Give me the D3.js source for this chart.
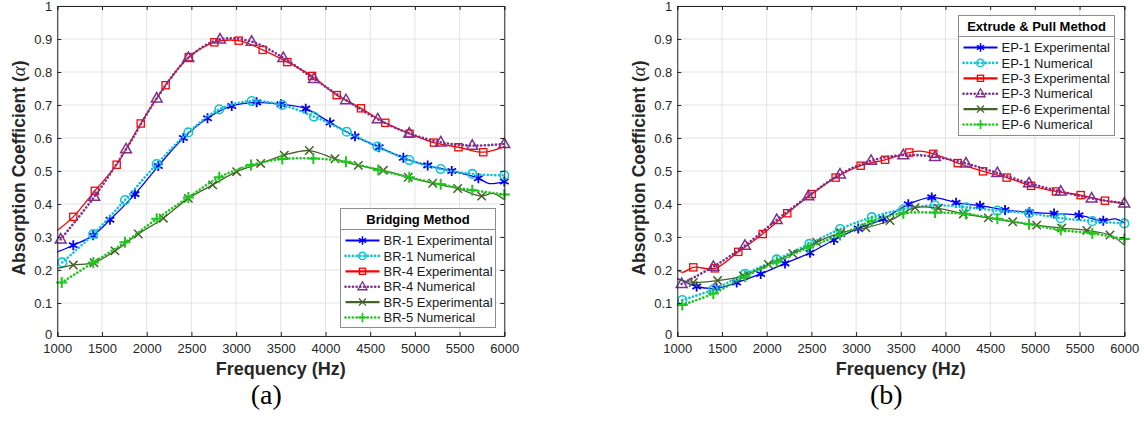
<!DOCTYPE html>
<html>
<head>
<meta charset="utf-8">
<script src="https://cdn.jsdelivr.net/npm/d3@7"></script>
<style>
  body { margin: 0; background: #fff; }
  svg { display: block; }
</style>
</head>
<body>
<script>
// frequency ticks / value ticks
const xTicks = [1000, 1500, 2000, 2500, 3000, 3500, 4000, 4500, 5000, 5500, 6000];
const yTicks = [0, 0.1, 0.2, 0.3, 0.4, 0.5, 0.6, 0.7, 0.8, 0.9, 1];

// [freq, alpha, (0 = no marker)]
const br1Exp = [[1000,.255,0],[1179,.275],[1400,.305],[1589,.352],[1869,.43],[2130,.515],[2410,.6],[2680,.66],[2951,.697],[3230,.708],[3502,.702],[3779,.689],[4051,.647],[4330,.605],[4600,.572],[4871,.54],[5143,.517],[5412,.5],[5710,.478],[5830,.462,0],[6000,.468]];
const br1Num = [[1056,.223],[1403,.309],[1757,.412],[2112,.521],[2466,.617],[2812,.687],[3174,.712],[3517,.7],[3871,.665],[4237,.619],[4580,.574],[4937,.533],[5289,.506],[5642,.491],[6000,.487]];
const br4Exp = [[1000,.32,0],[1179,.361],[1420,.44],[1664,.519],[1933,.644],[2212,.76],[2470,.845],[2757,.89],[3029,.895],[3297,.867],[3573,.83],[3849,.788],[4125,.73],[4397,.69],[4669,.646],[4940,.613],[5214,.586],[5487,.572],[5765,.557],[6000,.574,0]];
const br4Num = [[1038,.293],[1414,.422],[1769,.566],[2112,.72],[2466,.843],[2820,.899],[3174,.892],[3528,.843],[3871,.779],[4229,.715],[4584,.657],[4937,.614],[5289,.587],[5642,.577],[6000,.582]];
const br5Exp = [[1000,.205,0],[1179,.215],[1410,.222],[1645,.258],[1906,.309],[2186,.357],[2466,.417],[2738,.458],[3006,.498],[3275,.523],[3539,.548],[3819,.562],[4106,.537],[4367,.517],[4647,.502],[4926,.481],[5199,.463],[5479,.447],[5747,.424],[5870,.432,0],[6000,.413,0]];
const br5Num = [[1049,.162],[1403,.223],[1757,.284],[2112,.355],[2466,.42],[2812,.481],[3167,.518],[3517,.536],[3864,.538],[4229,.528],[4591,.503],[4937,.481],[5289,.46],[5642,.442],[6000,.429]];

const ep1Exp = [[1000,.175,0],[1217,.15],[1440,.145],[1664,.162],[1933,.188],[2205,.22],[2484,.252],[2752,.291],[3024,.326],[3304,.355],[3584,.399],[3846,.42],[4118,.404],[4386,.395],[4666,.382],[4937,.375],[5214,.371],[5493,.366],[5765,.349],[5900,.355,0],[6000,.343,0]];
const ep1Num = [[1056,.109],[1403,.141],[1757,.188],[2112,.232],[2477,.279],[2820,.324],[3175,.36],[3528,.384],[3882,.396],[4229,.39],[4580,.38],[4934,.372],[5289,.357],[5642,.348],[6000,.341]];
const ep3Exp = [[1000,.2,0],[1060,.193,0],[1179,.208],[1420,.205],[1682,.255],[1955,.309],[2230,.372],[2503,.43],[2771,.48],[3051,.516],[3324,.534],[3595,.556],[3715,.56,0],[3864,.552],[4137,.524],[4420,.499],[4684,.48],[4958,.455],[5236,.438],[5512,.427],[5784,.41],[6000,.402,0]];
const ep3Num = [[1049,.158],[1403,.21],[1757,.274],[2112,.352],[2466,.424],[2820,.49],[3167,.531],[3528,.548],[3882,.543],[4229,.523],[4580,.494],[4934,.463],[5289,.438],[5635,.417],[6000,.402]];
const ep6Exp = [[1000,.172,0],[1179,.162],[1450,.168],[1740,.182],[2018,.217],[2291,.25],[2559,.284],[2828,.313],[3110,.328],[3379,.35],[3659,.389],[3920,.387],[4200,.37],[4479,.358],[4752,.346],[5020,.336],[5300,.327],[5580,.32],[5840,.306],[6000,.276,0]];
const ep6Num = [[1056,.094],[1403,.129],[1757,.18],[2112,.225],[2466,.268],[2820,.306],[3175,.348],[3528,.372],[3882,.374],[4229,.37],[4580,.355],[4934,.339],[5289,.321],[5642,.311],[6000,.294]];

const leftNames = ["BR-1 Experimental", "BR-1 Numerical", "BR-4 Experimental", "BR-4 Numerical", "BR-5 Experimental", "BR-5 Numerical"];
const rightNames = ["EP-1 Experimental", "EP-1 Numerical", "EP-3 Experimental", "EP-3 Numerical", "EP-6 Experimental", "EP-6 Numerical"];

// style per series slot (same for both panels)
const styles = [
  {color: "#0000ff", dash: null, marker: "star"},
  {color: "#12c4d2", dash: "0.1,3.6", marker: "circle"},
  {color: "#ff0000", dash: null, marker: "square"},
  {color: "#7e2f8e", dash: "0.1,3.6", marker: "triangle"},
  {color: "#46602a", dash: null, marker: "x"},
  {color: "#1cc81c", dash: "0.1,3.6", marker: "plus"}
];

const W = 1144, H = 421;
const sans = "'Liberation Sans', Arial, Helvetica, sans-serif";
const svg = d3.select("body").append("svg").attr("width", W).attr("height", H)
  .attr("font-family", sans);
const ink = "#262626";

function marker(g, type, color, s) {
  s = s || 1;
  if (type === "circle") {
    g.append("circle").attr("r", 4.3 * s).attr("fill", "none").attr("stroke", color).attr("stroke-width", 1.6);
  } else if (type === "square") {
    g.append("rect").attr("x", -3.6 * s).attr("y", -3.6 * s).attr("width", 7.2 * s).attr("height", 7.2 * s)
      .attr("fill", "none").attr("stroke", color).attr("stroke-width", 1.3);
  } else {
    const paths = {
      star: "M0,-5V5M-4.3,-2.5L4.3,2.5M-4.3,2.5L4.3,-2.5",
      triangle: "M0,-5.8L5.4,3.6L-5.4,3.6Z",
      x: "M-4.2,-4.2L4.2,4.2M-4.2,4.2L4.2,-4.2",
      plus: "M0,-5.5V5.5M-5.5,0H5.5"
    };
    g.append("path").attr("d", paths[type]).attr("transform", "scale(" + s + ")")
      .attr("fill", "none").attr("stroke", color)
      .attr("stroke-width", type === "plus" ? 2 : (type === "star" ? 1.8 : 1.5));
  }
}

function panel(x0, series, names, title, legBox, caption) {
  const x = d3.scaleLinear().domain([1000, 6000]).range([x0, x0 + 447]);
  const y = d3.scaleLinear().domain([0, 1]).range([336, 6]);
  const g = svg.append("g");

  // grid
  g.append("g").selectAll("line").data(xTicks).join("line")
    .attr("x1", d => x(d)).attr("x2", d => x(d)).attr("y1", y(0)).attr("y2", y(1))
    .attr("stroke", "#e3e3e3").attr("stroke-width", 1);
  g.append("g").selectAll("line").data(yTicks).join("line")
    .attr("x1", x(1000)).attr("x2", x(6000)).attr("y1", d => y(d)).attr("y2", d => y(d))
    .attr("stroke", "#e3e3e3").attr("stroke-width", 1);

  // curves
  const line = d3.line().x(d => x(d[0])).y(d => y(d[1])).curve(d3.curveCatmullRom.alpha(0.5));
  series.forEach((data, i) => {
    const st = styles[i];
    g.append("path").datum(data).attr("d", line)
      .attr("fill", "none").attr("stroke", st.color)
      .attr("stroke-width", st.dash ? 2.6 : 1.3)
      .attr("stroke-dasharray", st.dash)
      .attr("stroke-linecap", st.dash ? "round" : "butt");
    g.append("g").selectAll("g").data(data.filter(d => d[2] !== 0)).join("g")
      .attr("transform", d => "translate(" + x(d[0]) + "," + y(d[1]) + ")")
      .each(function () { marker(d3.select(this), st.marker, st.color); });
  });

  // axes (ticks point inward, box on)
  const fmt = d => d === 0 || d === 1 ? String(d) : d.toFixed(1);
  const ax = [
    g.append("g").attr("transform", "translate(0,336)").call(d3.axisBottom(x).tickValues(xTicks).tickSize(-4).tickPadding(8).tickFormat(d3.format("d"))),
    g.append("g").attr("transform", "translate(0,6)").call(d3.axisTop(x).tickValues(xTicks).tickSize(-4).tickFormat("")),
    g.append("g").attr("transform", "translate(" + x0 + ",0)").call(d3.axisLeft(y).tickValues(yTicks).tickSize(-4).tickPadding(5).tickFormat(fmt)),
    g.append("g").attr("transform", "translate(" + (x0 + 447) + ",0)").call(d3.axisRight(y).tickValues(yTicks).tickSize(-4).tickFormat(""))
  ];
  ax.forEach(a => {
    a.attr("font-family", sans).attr("font-size", 13);
    a.selectAll("path.domain").attr("stroke", ink).attr("stroke-width", 1);
    a.selectAll(".tick line").attr("stroke", ink);
    a.selectAll("text").attr("fill", ink);
  });
  // lift the "0" label slightly so it clears the "1000" label
  ax[2].selectAll(".tick text").filter(d => d === 0).attr("dy", "0.2em");

  // axis labels
  g.append("text").attr("x", x0 + 223.5).attr("y", 375).attr("text-anchor", "middle")
    .attr("font-size", 18).attr("font-weight", "bold").attr("fill", ink).text("Frequency (Hz)");
  const yl = g.append("text").attr("transform", "translate(" + (x0 - 32) + ",168) rotate(-90)")
    .attr("text-anchor", "middle").attr("font-size", 17.5).attr("font-weight", "bold").attr("fill", ink);
  yl.append("tspan").text("Absorption Coefficient (");
  yl.append("tspan").attr("font-family", "'Liberation Serif', 'DejaVu Serif', serif").attr("font-style", "italic")
    .attr("font-weight", "normal").attr("font-size", 19).text("α");
  yl.append("tspan").text(")");

  // caption
  g.append("text").attr("x", x0 + 209).attr("y", 404).attr("text-anchor", "middle")
    .attr("font-family", "'Liberation Serif', 'Times New Roman', serif").attr("font-size", 28)
    .attr("fill", "#000").text(caption);

  // legend
  const lg = g.append("g");
  lg.append("rect").attr("x", legBox.x).attr("y", legBox.y).attr("width", legBox.w).attr("height", legBox.h)
    .attr("fill", "#fff").attr("stroke", "#8c8c8c").attr("stroke-width", 1);
  lg.append("line").attr("x1", legBox.x).attr("x2", legBox.x + legBox.w)
    .attr("y1", legBox.y + 21).attr("y2", legBox.y + 21).attr("stroke", "#8c8c8c");
  lg.append("text").attr("x", legBox.x + legBox.w / 2).attr("y", legBox.y + 15).attr("text-anchor", "middle")
    .attr("font-size", 13).attr("font-weight", "bold").attr("fill", "#000").text(title);
  names.forEach((n, i) => {
    const st = styles[i];
    const ry = legBox.y + 32 + i * 15.4;
    const lx = legBox.x + 5;
    lg.append("line").attr("x1", lx).attr("x2", lx + 34).attr("y1", ry).attr("y2", ry)
      .attr("stroke", st.color).attr("stroke-width", st.dash ? 2.6 : 2.2)
      .attr("stroke-dasharray", st.dash).attr("stroke-linecap", st.dash ? "round" : "butt");
    marker(lg.append("g").attr("transform", "translate(" + (lx + 17) + "," + ry + ")"), st.marker, st.color, 0.85);
    lg.append("text").attr("x", lx + 38).attr("y", ry + 4.6).attr("font-size", 13).attr("fill", "#1a1a1a").text(n);
  });
}

panel(57.3, [br1Exp, br1Num, br4Exp, br4Num, br5Exp, br5Num], leftNames, "Bridging Method",
  {x: 340.5, y: 208.5, w: 155, h: 119}, "(a)");
panel(677.3, [ep1Exp, ep1Num, ep3Exp, ep3Num, ep6Exp, ep6Num], rightNames, "Extrude & Pull Method",
  {x: 958.5, y: 15.5, w: 156, h: 120}, "(b)");
</script>
</body>
</html>
